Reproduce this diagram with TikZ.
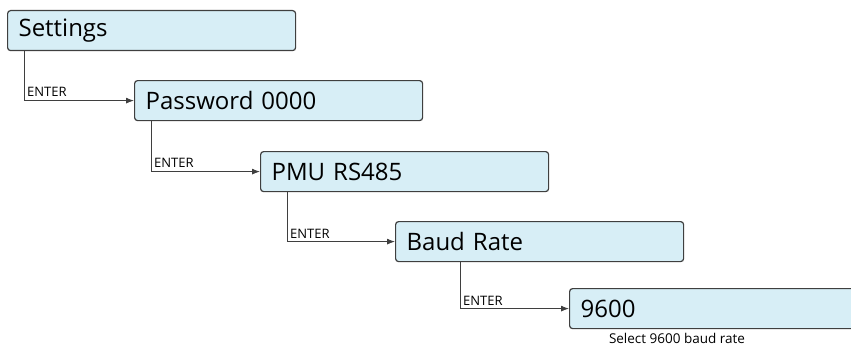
\documentclass[tikz,border=0pt]{standalone}
\usepackage{fontspec}
\setmainfont{Open Sans}
\usetikzlibrary{arrows.meta}
\definecolor{boxfill}{HTML}{D7EEF6}
\definecolor{boxline}{HTML}{3F3F3F}
\tikzset{
  menubox/.style={draw=boxline, fill=boxfill, line width=1.2pt, rounded corners=3pt,
    minimum width=288pt, minimum height=40pt, anchor=north west, inner xsep=11pt, inner ysep=0pt,
    text width=266pt, align=left, font=\fontsize{24}{28}\selectfont},
  conn/.style={draw=boxline, line width=0.9pt, -{Latex[length=8pt,width=6pt]}},
  lbl/.style={font=\fontsize{13}{15}\selectfont, anchor=south west, inner sep=1pt},
}
\begin{document}
\begin{tikzpicture}[x=1pt,y=-1pt]
\useasboundingbox (0,0) rectangle (851,345);
\begin{scope}
\clip (0,0) rectangle (851,345);
\node[menubox] (s) at (7,10) {Settings};
\node[menubox] (p) at (134,80) {Password 0000};
\node[menubox] (r) at (260,151) {PMU RS485};
\node[menubox] (b) at (395,221) {Baud Rate};
\node[menubox] (n) at (569,288) {9600};
\end{scope}
\coordinate (c1) at (24,99);
\coordinate (c2) at (151,170);
\coordinate (c3) at (287,241);
\coordinate (c4) at (460,308);
\draw[conn] (s.south west -| c1) |- (p.west);
\draw[conn] (p.south west -| c2) |- (r.west);
\draw[conn] (r.south west -| c3) |- (b.west);
\draw[conn] (b.south west -| c4) |- (n.west);
\node[lbl] (l1) at (26,98) {ENTER};
\node[lbl] (l2) at (153,169) {ENTER};
\node[lbl] (l3) at (289,240) {ENTER};
\node[lbl] (l4) at (462,307) {ENTER};
\node[font=\fontsize{13.5}{15}\selectfont, anchor=center] (cap) at (677,338) {Select 9600 baud rate};
\end{tikzpicture}
\end{document}
